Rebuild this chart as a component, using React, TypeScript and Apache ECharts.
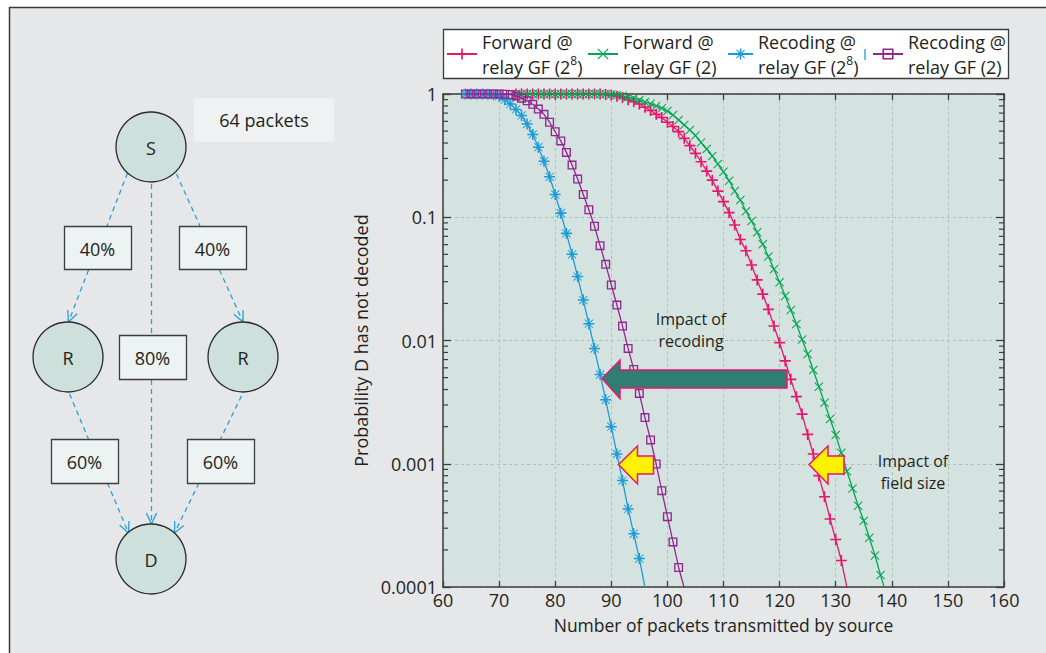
import React, { useEffect, useRef } from "react";
import * as echarts from "echarts";

const FONT = '"Open Sans", "Noto Sans", sans-serif';
const TEXT_COLOR = "#231f20";

// ---------- data ----------
const SERIES_NAMES = [
  "Forward @ relay GF (2^8)",
  "Forward @ relay GF (2)",
  "Recoding @ relay GF (2^8)",
  "Recoding @ relay GF (2)",
];
const LEGEND_LABELS = [
  "Forward @\nrelay GF (2{sup|8})",
  "Forward @\nrelay GF (2)",
  "Recoding @\nrelay GF (2{sup|8})",
  "Recoding @\nrelay GF (2)",
];
const SERIES_COLORS = ["#e8176e", "#00a651", "#1c9bd7", "#92278f"];

// Forward @ relay GF(2^8): packets 73..132
const FWD256_START = 73;
const FWD256 = [
  1, 1, 1, 1, 1, 1, 1, 1, 1, 1, 1, 1, 1, 1, 1,
  0.998, 0.99, 0.98, 0.96, 0.935, 0.9, 0.867, 0.83, 0.78, 0.735,
  0.685, 0.645, 0.59, 0.545, 0.495, 0.437, 0.381, 0.33, 0.282, 0.237,
  0.2, 0.163, 0.134, 0.109, 0.0865, 0.066, 0.0535, 0.041, 0.031, 0.0238,
  0.0179, 0.0131, 0.0096, 0.00683, 0.00484, 0.0035, 0.00253, 0.00173, 0.0012, 0.0008,
  0.00054, 0.000356, 0.000243, 0.000164, 0.0000995,
];

// Forward @ relay GF(2): packets 73..139
const FWD2_START = 73;
const FWD2 = [
  1, 1, 1, 1, 1, 1, 1, 1, 1, 1, 1, 1, 1, 1, 1, 1, 1,
  0.99, 0.98, 0.965, 0.945, 0.925, 0.895, 0.862, 0.835, 0.8, 0.765,
  0.728, 0.676, 0.615, 0.56, 0.51, 0.46, 0.405, 0.358, 0.314, 0.27,
  0.234, 0.198, 0.163, 0.138, 0.112, 0.0932, 0.0755, 0.0604, 0.048, 0.0378,
  0.0297, 0.023, 0.0177, 0.0136, 0.0102, 0.00777, 0.00577, 0.00422, 0.00313, 0.00231,
  0.00171, 0.00123, 0.00087, 0.00063, 0.000457, 0.000345, 0.000251, 0.00018, 0.000125, 0.000087,
];

// Recoding @ relay GF(2^8): packets 64..96
const REC256_START = 64;
const REC256 = [
  1, 1, 1, 0.999, 0.995, 0.985, 0.96, 0.9, 0.83, 0.75,
  0.67, 0.57, 0.47, 0.37, 0.285, 0.213, 0.153, 0.108, 0.074, 0.05,
  0.033, 0.0213, 0.0137, 0.0086, 0.0053, 0.0033, 0.002, 0.0012, 0.00073, 0.00043,
  0.00027, 0.00017, 0.0000995,
];

// Recoding @ relay GF(2): packets 64..103
const REC2_START = 64;
const REC2 = [
  1, 1, 1, 1, 1, 1, 0.998, 0.995, 0.99, 0.965,
  0.925, 0.88, 0.825, 0.755, 0.684, 0.59, 0.494, 0.416, 0.336, 0.265,
  0.204, 0.153, 0.115, 0.0845, 0.0588, 0.0415, 0.0282, 0.0194, 0.0131, 0.00863,
  0.00583, 0.00372, 0.00237, 0.00156, 0.000995, 0.000605, 0.000372, 0.000232, 0.000144, 0.0000985,
];

const X_MIN = 60;
const X_MAX = 160;
const X_STEP = 10;
const Y_MIN = 0.0001;
const Y_MAX = 1;
const Y_TICK_LABELS = ["0.0001", "0.001", "0.01", "0.1", "1"];
const MINOR_TICKS = [
  0.0002, 0.0003, 0.0004, 0.0005, 0.0006, 0.0007, 0.0008, 0.0009,
  0.002, 0.003, 0.004, 0.005, 0.006, 0.007, 0.008, 0.009,
  0.02, 0.03, 0.04, 0.05, 0.06, 0.07, 0.08, 0.09,
  0.2, 0.3, 0.4, 0.5, 0.6, 0.7, 0.8, 0.9,
];

// diagram content
const NODE_LABELS = ["S", "R", "R", "D"];
const BOX_LABELS = ["40%", "40%", "80%", "60%", "60%"];
const PACKETS_LABEL = "64 packets";
const RECODING_NOTE = ["Impact of", "recoding"];
const FIELD_NOTE = ["Impact of", "field size"];

// ---------- symbols ----------
const PLUS = "path://M4.25,0H5.75V10H4.25Z M0,4.25H10V5.75H0Z";
const CROSS = "path://M0.8,0L10,9.2L9.2,10L0,0.8Z M9.2,0L10,0.8L0.8,10L0,9.2Z";
const STAR =
  "path://M4.3,0H5.7V10H4.3Z M0,4.3H10V5.7H0Z M1.6,1L9,8.4L8.4,9L1,1.6Z M8.4,1L9,1.6L1.6,9L1,8.4Z";
const SQUARE = "path://M0,0H10V10H0Z M1.5,1.5V8.5H8.5V1.5Z";

function buildSeries() {
  const defs = [
    { start: FWD256_START, values: FWD256, symbol: PLUS, size: 11 },
    { start: FWD2_START, values: FWD2, symbol: CROSS, size: 9 },
    { start: REC256_START, values: REC256, symbol: STAR, size: 11 },
    { start: REC2_START, values: REC2, symbol: SQUARE, size: 9 },
  ];
  return defs.map((d, i) => ({
    type: "line",
    name: SERIES_NAMES[i],
    data: d.values.map((v, k) => [d.start + k, v]),
    symbol: d.symbol,
    symbolSize: d.size,
    showSymbol: true,
    clip: true,
    color: SERIES_COLORS[i],
    lineStyle: { color: SERIES_COLORS[i], width: 1.3 },
    itemStyle: { color: SERIES_COLORS[i] },
    emphasis: { disabled: true },
    z: 3 + i,
  }));
}

function arrowHead(x1: number, y1: number, x2: number, y2: number, color: string) {
  const dx = x2 - x1;
  const dy = y2 - y1;
  const len = Math.sqrt(dx * dx + dy * dy);
  const ux = dx / len;
  const uy = dy / len;
  const L = 12;
  const a = (25 * Math.PI) / 180;
  const rot = (s: number) => {
    const c = Math.cos(s * a);
    const sn = Math.sin(s * a);
    return [ux * c - uy * sn, ux * sn + uy * c];
  };
  return [1, -1].map((s) => {
    const r = rot(s);
    return {
      type: "line",
      z: 100,
      shape: { x1: x2, y1: y2, x2: x2 - L * r[0], y2: y2 - L * r[1] },
      style: { stroke: color, lineWidth: 1.3 },
    };
  });
}

function textEl(text: string, x: number, y: number, size = 18) {
  return {
    type: "text",
    z: 101,
    style: {
      text,
      x,
      y,
      fill: TEXT_COLOR,
      font: `${size}px ${FONT}`,
      fontSize: size,
      fontFamily: FONT,
      align: "center",
      verticalAlign: "middle",
      textAlign: "center",
      textVerticalAlign: "middle",
    },
  };
}

function buildGraphic() {
  const els: any[] = [];
  // figure frame
  els.push({
    type: "rect",
    z: -100,
    shape: { x: 9, y: 7, width: 1037, height: 646 },
    style: { fill: "#e6e7e8" },
  });
  els.push({ type: "line", z: -99, shape: { x1: 9.5, y1: 7, x2: 9.5, y2: 653 }, style: { stroke: "#3a3a3a", lineWidth: 1.5 } });
  els.push({ type: "line", z: -99, shape: { x1: 9, y1: 7.5, x2: 1046, y2: 7.5 }, style: { stroke: "#3a3a3a", lineWidth: 1.5 } });

  // diagram edges
  const blue = "#29a0da";
  const edges: [number, number, number, number, boolean][] = [
    [127.5, 173, 107, 226, false],
    [88.5, 270, 68.5, 322, true],
    [151.5, 184, 151.5, 335, false],
    [176.5, 174, 200, 226, false],
    [219.5, 270, 243, 322, true],
    [69.5, 394, 88.5, 439, false],
    [107.5, 483, 128.5, 533, true],
    [151.5, 380, 151.5, 524, true],
    [241.5, 396, 220.5, 439, false],
    [199, 483, 174.5, 533, true],
  ];
  edges.forEach(([x1, y1, x2, y2, arrow]) => {
    els.push({
      type: "line",
      z: 99,
      shape: { x1, y1, x2, y2 },
      style: { stroke: blue, lineWidth: 1.3, lineDash: [5, 4] },
    });
    if (arrow) els.push(...arrowHead(x1, y1, x2, y2, blue));
  });

  // nodes
  const nodePos = [
    [151, 147],
    [68, 357],
    [243, 357],
    [151, 559],
  ];
  nodePos.forEach(([cx, cy], i) => {
    els.push({
      type: "circle",
      z: 100,
      shape: { cx, cy, r: 35 },
      style: { fill: "#cde0dc", stroke: "#2b2b2b", lineWidth: 1.3 },
    });
    els.push(textEl(NODE_LABELS[i], cx, cy + 1));
  });

  // boxes
  const boxPos = [
    [64, 226, 67, 43],
    [179, 226, 67, 43],
    [119, 335, 67, 44],
    [51, 439, 67, 44],
    [187, 439, 67, 44],
  ];
  boxPos.forEach(([x, y, w, h], i) => {
    els.push({
      type: "rect",
      z: 100,
      shape: { x: x + 0.5, y: y + 0.5, width: w, height: h },
      style: { fill: "#edf2f2", stroke: "#3c3c3c", lineWidth: 1.3 },
    });
    els.push(textEl(BOX_LABELS[i], x + w / 2, y + h / 2 + 1));
  });

  // 64 packets
  els.push({
    type: "rect",
    z: 100,
    shape: { x: 194, y: 98, width: 140, height: 44 },
    style: { fill: "#eef2f3" },
  });
  els.push(textEl(PACKETS_LABEL, 264, 120));

  // legend box
  els.push({
    type: "rect",
    z: 1,
    shape: { x: 443.5, y: 29.5, width: 565, height: 49 },
    style: { fill: "#ffffff", stroke: "#3c3c3c", lineWidth: 1.3 },
  });
  els.push({
    type: "line",
    z: 10,
    shape: { x1: 865, y1: 49, x2: 865, y2: 60 },
    style: { stroke: SERIES_COLORS[2], lineWidth: 1.3 },
  });

  // annotation arrows
  const pink = "#e8176e";
  els.push({
    type: "polygon",
    z: 50,
    shape: {
      points: [
        [602, 378.5], [620, 360], [620, 370], [787, 370], [787, 388], [620, 388], [620, 398.5],
      ],
    },
    style: { fill: "#2e7f72", stroke: pink, lineWidth: 1.5 },
  });
  const yellowArrow = (tipX: number) => [
    [tipX, 464.5], [tipX + 19, 446], [tipX + 19, 456], [tipX + 35, 456], [tipX + 35, 474], [tipX + 19, 474], [tipX + 19, 484],
  ];
  els.push({
    type: "polygon",
    z: 50,
    shape: { points: yellowArrow(618.5) },
    style: { fill: "#fff200", stroke: pink, lineWidth: 1.5 },
  });
  els.push({
    type: "polygon",
    z: 50,
    shape: { points: yellowArrow(809) },
    style: { fill: "#fff200", stroke: pink, lineWidth: 1.5 },
  });
  els.push(textEl(RECODING_NOTE[0], 691, 319, 16));
  els.push(textEl(RECODING_NOTE[1], 691, 341, 16));
  els.push(textEl(FIELD_NOTE[0], 913, 461, 16));
  els.push(textEl(FIELD_NOTE[1], 913, 483, 16));
  return els;
}

function buildOption() {
  const axisLine = { show: true, lineStyle: { color: "#3c3c3c", width: 1.5 } };
  const tickStyle = { color: "#3c3c3c", width: 1.3 };
  const split = { show: true, lineStyle: { color: "#b3bebc", width: 1, type: [3, 3] } };
  const legendLefts = [446, 587, 727, 872];
  const legendWidths = [30, 30, 25, 30];
  return {
    animation: false,
    backgroundColor: "#ffffff",
    textStyle: { fontFamily: FONT },
    grid: {
      left: 443,
      top: 94,
      right: 42,
      bottom: 66,
      show: true,
      backgroundColor: "#d5e3e0",
      borderWidth: 0,
      containLabel: false,
    },
    legend: SERIES_NAMES.map((n, i) => ({
      data: [n],
      left: legendLefts[i],
      top: 29,
      padding: 0,
      itemWidth: legendWidths[i],
      itemHeight: 14,
      selectedMode: false,
      z: 20,
      formatter: () => LEGEND_LABELS[i],
      textStyle: {
        fontSize: 18,
        lineHeight: 25,
        color: TEXT_COLOR,
        fontFamily: FONT,
        rich: {
          sup: { fontSize: 12, lineHeight: 18, verticalAlign: "top", fontFamily: FONT, color: TEXT_COLOR },
        },
      },
    })),
    xAxis: [
      {
        type: "value",
        min: X_MIN,
        max: X_MAX,
        interval: X_STEP,
        position: "bottom",
        name: "Number of packets transmitted by source",
        nameLocation: "middle",
        nameGap: 29,
        nameTextStyle: { fontSize: 17.5, color: TEXT_COLOR, fontFamily: FONT },
        axisLine,
        axisTick: { show: true, inside: true, length: 6, lineStyle: tickStyle },
        axisLabel: { fontSize: 18, color: TEXT_COLOR, margin: 4, fontFamily: FONT },
        splitLine: split,
      },
      {
        type: "value",
        min: X_MIN,
        max: X_MAX,
        interval: X_STEP,
        position: "top",
        axisLine,
        axisTick: { show: true, inside: true, length: 6, lineStyle: tickStyle },
        axisLabel: { show: false },
        splitLine: { show: false },
      },
    ],
    yAxis: [
      {
        type: "log",
        logBase: 10,
        min: Y_MIN,
        max: Y_MAX,
        position: "left",
        name: "Probability D has not decoded",
        nameLocation: "middle",
        nameGap: 56,
        nameTextStyle: { fontSize: 18, color: TEXT_COLOR, fontFamily: FONT },
        axisLine,
        axisTick: { show: true, inside: true, length: 8, lineStyle: tickStyle },
        axisLabel: {
          fontSize: 18,
          color: TEXT_COLOR,
          margin: 6,
          fontFamily: FONT,
          formatter: (v: number) => {
            const e = Math.round(Math.log10(v));
            return Y_TICK_LABELS[e + 4] ?? "";
          },
        },
        splitLine: split,
      },
      {
        type: "log",
        logBase: 10,
        min: Y_MIN,
        max: Y_MAX,
        position: "right",
        axisLine,
        axisTick: { show: true, inside: true, length: 8, lineStyle: tickStyle },
        axisLabel: { show: false },
        splitLine: { show: false },
      },
    ],
    series: [
      ...buildSeries(),
      {
        type: "custom",
        name: "minorTicks",
        silent: true,
        clip: false,
        z: 10,
        data: MINOR_TICKS.map((v) => [X_MIN, v]),
        renderItem: (params: any, api: any) => {
          const p = api.coord([api.value(0), api.value(1)]);
          const cs = params.coordSys;
          const style = { stroke: "#3c3c3c", lineWidth: 1.2 };
          return {
            type: "group",
            children: [
              { type: "line", shape: { x1: cs.x, y1: p[1], x2: cs.x + 5, y2: p[1] }, style },
              { type: "line", shape: { x1: cs.x + cs.width - 5, y1: p[1], x2: cs.x + cs.width, y2: p[1] }, style },
            ],
          };
        },
      },
    ],
    graphic: { elements: buildGraphic() },
  };
}

export default function App() {
  const ref = useRef<HTMLDivElement>(null);
  useEffect(() => {
    const el = ref.current;
    if (!el) return;
    const chart = echarts.init(el, null, { renderer: "svg" });
    chart.setOption(buildOption() as any);
    return () => chart.dispose();
  }, []);
  return (
    <div
      ref={ref}
      style={{ position: "fixed", left: 0, top: 0, width: 1046, height: 653 }}
    />
  );
}
